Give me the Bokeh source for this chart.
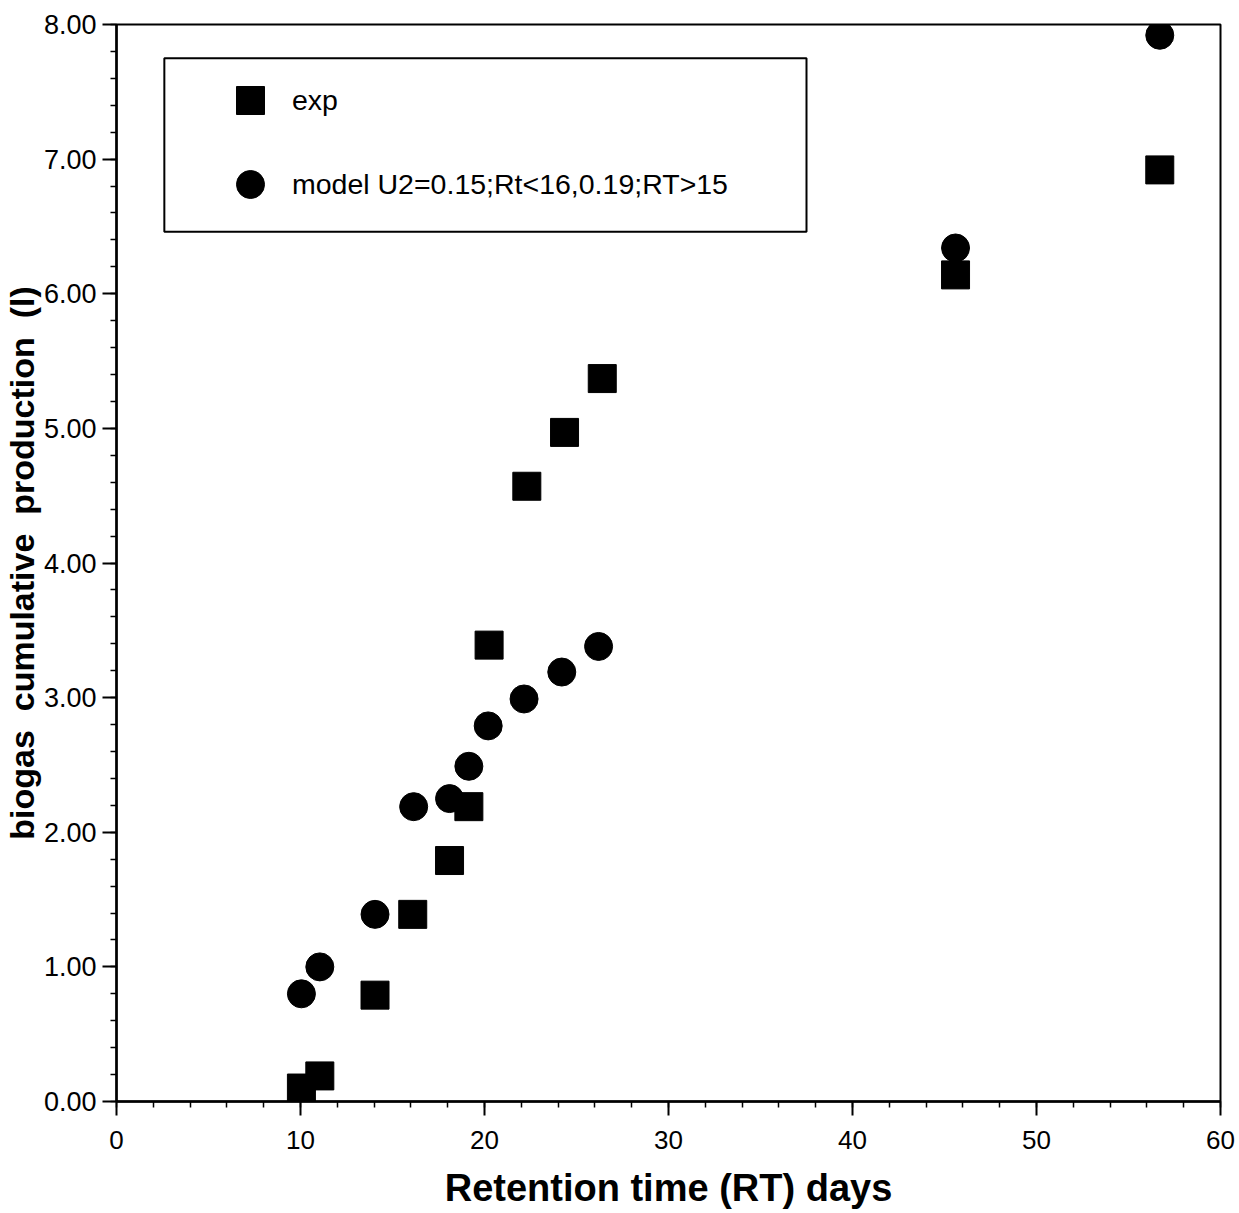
from bokeh.plotting import figure
from bokeh.models import (Range1d, FixedTicker, PrintfTickFormatter, Legend, LegendItem,
                          Title, BoxAnnotation)
from bokeh.embed import file_html
from bokeh.resources import INLINE

# Data
rt_exp = [10.05, 11.05, 14.05, 16.1, 18.1, 19.15, 20.25, 22.3, 24.35, 26.4, 45.6, 56.7]
biogas_exp = [0.10, 0.19, 0.79, 1.39, 1.79, 2.19, 3.39, 4.57, 4.97, 5.37, 6.14, 6.92]
rt_model = [10.05, 11.05, 14.05, 16.15, 18.1, 19.15, 20.2, 22.15, 24.2, 26.2, 45.6, 56.7]
biogas_model = [0.80, 1.00, 1.39, 2.19, 2.25, 2.49, 2.79, 2.99, 3.19, 3.38, 6.34, 7.92]

x_ticks = [0, 10, 20, 30, 40, 50, 60]
x_minor = list(range(0, 61, 2))
y_ticks = [0, 1, 2, 3, 4, 5, 6, 7, 8]
y_minor = [i / 5 for i in range(0, 41)]

label_exp = "exp"
label_model = "model U2=0.15;Rt<16,0.19;RT>15"
x_title = "Retention time (RT) days"
NB = "\u00a0"
y_title = "biogas" + NB * 2 + "cumulative" + NB * 2 + "production" + NB * 2 + "(l)"

FONT = "Liberation Sans"

p = figure(width=1237, height=1211, output_backend="svg", toolbar_location=None,
           x_range=Range1d(0, 60), y_range=Range1d(0, 8),
           min_border_left=114, min_border_right=17, min_border_top=24, min_border_bottom=108)
p.background_fill_color = "white"
p.border_fill_color = "white"
p.outline_line_color = "black"
p.outline_line_width = 2
p.xgrid.visible = False
p.ygrid.visible = False

for ax in (p.xaxis[0], p.yaxis[0]):
    ax.axis_line_color = "black"
    ax.axis_line_width = 2.5
    ax.major_tick_line_color = "black"
    ax.major_tick_line_width = 2
    ax.minor_tick_line_color = "black"
    ax.minor_tick_line_width = 1.5
    ax.major_tick_in = 0
    ax.major_tick_out = 14
    ax.minor_tick_in = 0
    ax.minor_tick_out = 6
    ax.major_label_text_font = FONT
    ax.major_label_text_color = "black"

p.xaxis.ticker = FixedTicker(ticks=x_ticks, minor_ticks=x_minor)
p.yaxis.ticker = FixedTicker(ticks=y_ticks, minor_ticks=y_minor)
p.yaxis.formatter = PrintfTickFormatter(format="%.2f")
p.xaxis.major_label_text_font_size = "26px"
p.yaxis.major_label_text_font_size = "27px"
p.xaxis.major_label_standoff = 15
p.yaxis.major_label_standoff = 6

p.xaxis.axis_label = x_title
p.xaxis.axis_label_text_font = FONT
p.xaxis.axis_label_text_font_style = "bold"
p.xaxis.axis_label_text_font_size = "38px"
p.xaxis.axis_label_text_color = "black"
p.xaxis.axis_label_standoff = 15

# y-axis title as a left-side title
ytitle = Title(text=y_title, align="center", offset=0, standoff=0,
               text_font=FONT, text_font_style="bold", text_font_size="34px",
               text_color="black")
p.add_layout(ytitle, "left")

r_exp = p.scatter(rt_exp, biogas_exp, marker="square", size=28,
                  fill_color="black", line_color="black")
r_model = p.scatter(rt_model, biogas_model, marker="circle", size=28,
                    fill_color="black", line_color="black")

# legend frame
legend_box = BoxAnnotation(left=2.6, right=37.5, bottom=6.46, top=7.75,
                           fill_color="white", fill_alpha=1,
                           line_color="black", line_width=2, line_alpha=1)
p.add_layout(legend_box)

legend = Legend(items=[LegendItem(label=label_exp, renderers=[r_exp]),
                       LegendItem(label=label_model, renderers=[r_model])],
                location=(99, 882), orientation="vertical",
                padding=0, spacing=14, margin=0,
                glyph_width=70, glyph_height=70, label_standoff=7,
                label_height=70,
                label_text_font=FONT, label_text_font_size="28.5px",
                label_text_color="black", label_text_baseline="middle",
                border_line_alpha=0, background_fill_alpha=0)
p.add_layout(legend)

open("out.html", "w").write(file_html(p, INLINE))
